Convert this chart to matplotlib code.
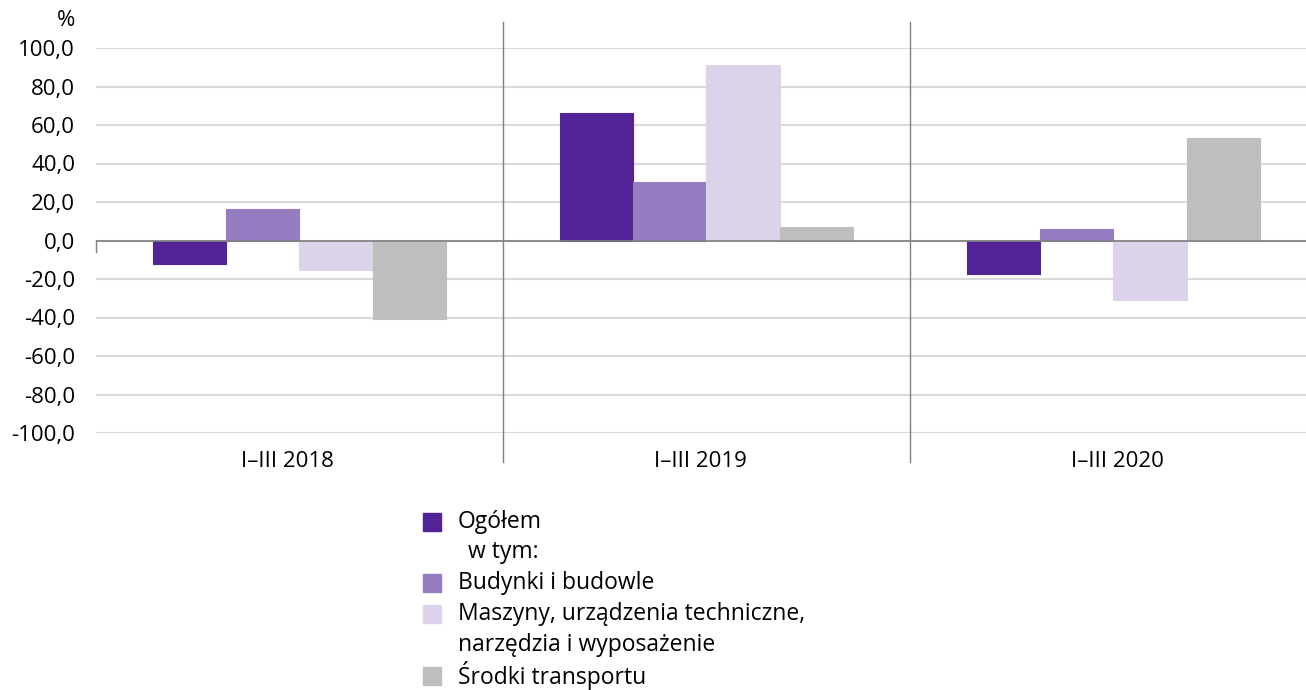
import matplotlib.pyplot as plt
from matplotlib.patches import Rectangle
from matplotlib.transforms import blended_transform_factory

plt.rcParams['font.family'] = ['Open Sans', 'DejaVu Sans']

# dane (%)
okresy = ['I–III 2018', 'I–III 2019', 'I–III 2020']
serie = ['Ogółem', 'Budynki i budowle',
         'Maszyny, urządzenia techniczne,\nnarzędzia i wyposażenie',
         'Środki transportu']
ogolem = [-12.1, 66.2, -17.4]
budynki = [16.2, 30.4, 6.0]
maszyny = [-15.5, 91.2, -30.7]
transport = [-40.6, 6.9, 53.0]
kolory = ['#512396', '#967cc0', '#dcd3ea', '#bebebe']
yticks = list(range(-100, 101, 20))

W, H = 1306, 690
fig = plt.figure(figsize=(W / 100, H / 100), dpi=100)
ax = fig.add_axes([96 / W, (H - 433) / H, 1221 / W, 385 / H])

szer = 0.18
wartosci = [ogolem, budynki, maszyny, transport]
for i, (vals, kol) in enumerate(zip(wartosci, kolory)):
    xs = [g + (i - 1.5) * szer for g in range(len(okresy))]
    ax.bar(xs, vals, width=szer, color=kol, edgecolor=kol, linewidth=0.8, zorder=3)

ax.set_xlim(-0.5, 2.5)
ax.set_ylim(-100, 100)
ax.set_yticks(yticks)
ax.set_yticklabels([f'{v:.1f}'.replace('.', ',') for v in yticks], fontsize=16)
ax.yaxis.grid(True, color='#d9d9d9', linewidth=1.5, zorder=0)
ax.tick_params(axis='y', length=0, pad=15)
ax.tick_params(axis='x', length=0)
ax.set_xticks([])
for s in ax.spines.values():
    s.set_visible(False)
ax.axhline(0, color='#808080', linewidth=1.2, zorder=4)

# separatory grup i podpisy
tr = blended_transform_factory(ax.transData, ax.transAxes)
for g in [0.5, 1.5]:
    ax.plot([g, g], [1.067, -0.075], transform=tr, color='#7f7f7f',
            linewidth=1.0, clip_on=False, zorder=5)
ax.plot([-0.5, -0.5], [0.5, 0.47], transform=tr, color='#7f7f7f',
        linewidth=1.0, clip_on=False)
przes = [-0.03, -0.015, 0.01]
for g, lab in enumerate(okresy):
    ax.text(g + przes[g], -0.075, lab, transform=tr, ha='center', va='center', fontsize=16)

fig.text(66 / W, 1 - 20 / H, '%', ha='center', va='center', fontsize=16)

# legenda
wiersze = [(serie[0], kolory[0], 522), ('w tym:', None, 552),
           (serie[1], kolory[1], 583), (serie[2].split('\n')[0], kolory[2], 614),
           (serie[2].split('\n')[1], None, 645), (serie[3], kolory[3], 676)]
for tekst, kol, y in wiersze:
    x = 468 if tekst == 'w tym:' else 458
    fig.text(x / W, 1 - y / H, tekst, ha='left', va='center', fontsize=16.5)
    if kol:
        fig.patches.append(Rectangle((423 / W, 1 - (y + 9) / H), 18 / W, 18 / H,
                                     transform=fig.transFigure, color=kol))

fig.savefig('out.png', dpi=100)
